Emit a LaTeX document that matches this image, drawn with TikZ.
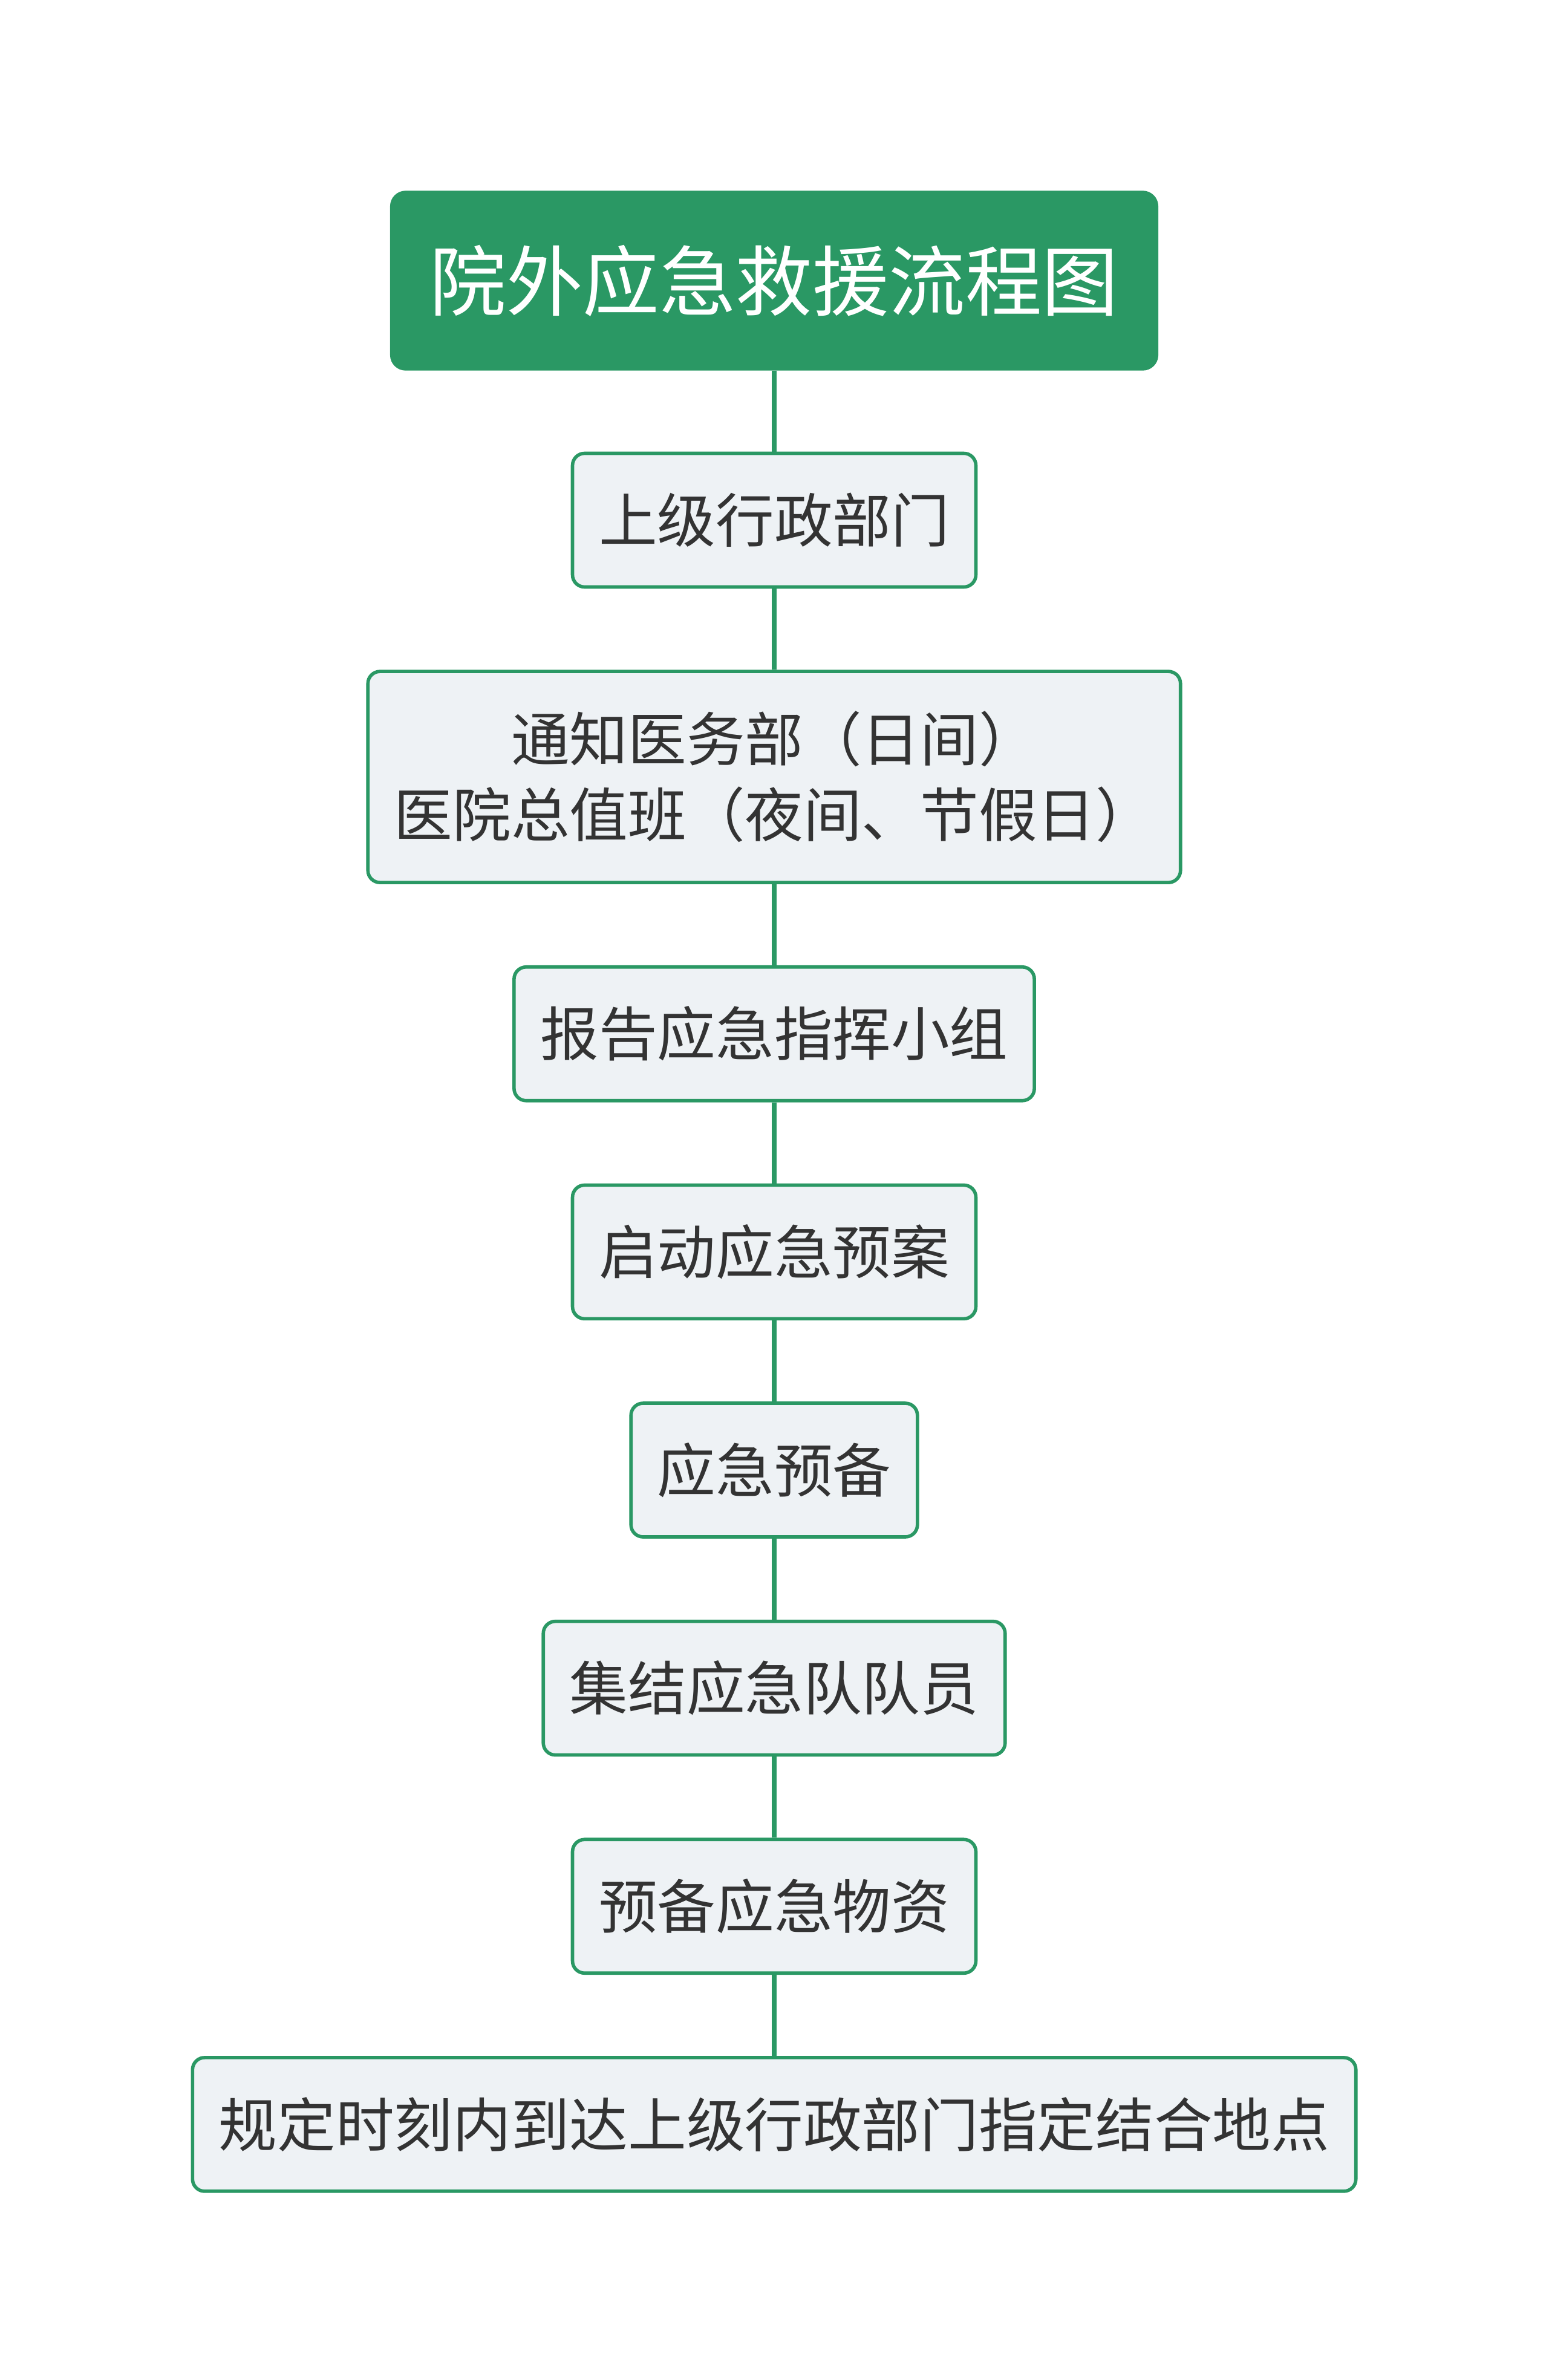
\documentclass[tikz,border=0pt]{standalone}
\usepackage{fontspec}
\setmainfont{Noto Sans CJK SC}
\usetikzlibrary{positioning}
\definecolor{flowgreen}{RGB}{42,152,100}
\definecolor{stepfill}{RGB}{238,242,245}
\definecolor{steptext}{RGB}{51,51,51}

\begin{document}
\begin{tikzpicture}[
    node distance=1.34cm,
    titlebox/.style={draw=flowgreen, fill=flowgreen, text=white, rounded corners=0.25cm,
        minimum height=2.96cm, inner xsep=0.65cm, font=\fontsize{36pt}{40pt}\selectfont},
    stepbox/.style={draw=flowgreen, line width=1.6pt, fill=stepfill, text=steptext,
        rounded corners=0.2cm, minimum height=2.21cm, inner xsep=0.435cm, align=center,
        font=\fontsize{27.5pt}{35.6pt}\selectfont},
    link/.style={draw=flowgreen, line width=0.08cm}
]
    \useasboundingbox (0,0) rectangle (25.6,-39.35);

    \node[titlebox] (title) at (12.8,-4.64) {院外应急救援流程图};
    \node[stepbox, below=of title] (upper) {上级行政部门};
    \node[stepbox, below=of upper, minimum height=3.49cm] (notify) {通知医务部（日间）\\医院总值班（夜间、节假日）};
    \node[stepbox, below=of notify] (report) {报告应急指挥小组};
    \node[stepbox, below=of report] (plan) {启动应急预案};
    \node[stepbox, below=of plan] (ready) {应急预备};
    \node[stepbox, below=of ready] (team) {集结应急队队员};
    \node[stepbox, below=of team] (supply) {预备应急物资};
    \node[stepbox, below=of supply] (arrive) {规定时刻内到达上级行政部门指定结合地点};

    % vertical links
    \foreach \a/\b in {title/upper, upper/notify, notify/report, report/plan,
                       plan/ready, ready/team, team/supply, supply/arrive}
        \draw[link] (\a.south) -- (\b.north);
\end{tikzpicture}
\end{document}
